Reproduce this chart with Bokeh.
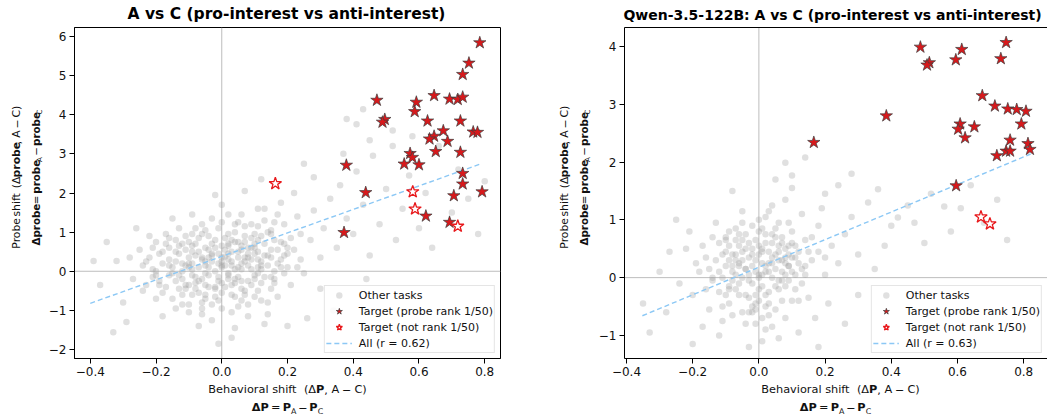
import math
from bokeh.plotting import figure
from bokeh.models import Range1d, Span, Label, Legend, LegendItem, LinearAxis, FixedTicker
from bokeh.layouts import row, column
from bokeh.embed import file_html
from bokeh.resources import INLINE

FONT = "DejaVu Sans"

# ---------------- data: left panel ----------------
left_title = "A vs C (pro-interest vs anti-interest)"
left_other_x = [0.00, 0.02, -0.03, 0.05, -0.06, 0.08, -0.09, 0.01, -0.02, 0.11, -0.11, 0.04, -0.05, 0.07, -0.08, 0.10, -0.12, 0.03, -0.01, 0.06,
                -0.07, 0.09, -0.10, 0.12, -0.04, 0.00, 0.02, -0.02, 0.05, -0.06, 0.08, -0.09, 0.01, 0.03, -0.04, 0.06, -0.03, 0.09, -0.12, 0.11,
                0.00, -0.08, 0.04, -0.05, 0.07, 0.10, -0.11, 0.12, -0.01, 0.02,
                0.14, -0.15, 0.16, -0.17, 0.18, -0.19, 0.20, -0.21, 0.22, -0.23, 0.15, -0.14, 0.17, -0.16, 0.19, -0.20, 0.21, -0.22, 0.24, -0.24,
                0.13, -0.13, 0.14, -0.18, 0.23, -0.25, 0.25, -0.15, 0.16, -0.20,
                0.05, -0.06, 0.02, -0.03, 0.08, -0.09, 0.00, 0.04, -0.07, 0.11, -0.02, 0.07, 0.03, -0.01, 0.13,
                0.27, 0.28, -0.27, -0.28, 0.30, 0.31, -0.30, 0.33, -0.32, -0.39, -0.33, 0.35, 0.36, -0.35, 0.38, 0.40, 0.41, -0.37, 0.43, 0.45,
                0.46, 0.48, 0.50, 0.52, 0.53, 0.55, 0.57, 0.58, 0.60, 0.62, 0.64, 0.66, 0.70, 0.72, 0.75, 0.78, 0.80, 0.30, 0.34, 0.26,
                0.28, 0.22, 0.18, 0.20, -0.26, -0.29, 0.12, 0.25, 0.44, 0.37, 0.38, 0.41, 0.43, 0.52, 0.45,
                0.01, -0.01, 0.04, -0.05, 0.06, -0.07, 0.09, -0.10, 0.03, -0.03, 0.07, -0.08, 0.10, -0.04, 0.05, -0.06, 0.02, -0.09, 0.08, 0.00,
                0.12, -0.12, 0.13, -0.14, 0.15, -0.16, 0.11, -0.10, 0.06, -0.05,
                -0.18, -0.16, -0.14, -0.12, -0.10, -0.08, -0.06, -0.04, -0.02, 0.00, 0.02, 0.04, 0.06, 0.08, 0.10, 0.12, 0.14, 0.16, 0.18, 0.20,
                -0.19, -0.17, -0.15, -0.13, -0.11, -0.09, -0.07, -0.05, -0.03, -0.01, 0.01, 0.03, 0.05, 0.07, 0.09, 0.11, 0.13, 0.15, 0.17, 0.19,
                -0.22, -0.20, -0.18, -0.16, -0.14, -0.12, -0.10, -0.08, -0.06, -0.04, -0.02, 0.00, 0.02, 0.04, 0.06, 0.08, 0.10, 0.12, 0.14, 0.16,
                0.21, 0.23, 0.19, -0.21, -0.23, 0.17, 0.13, 0.09, -0.11, -0.07, 0.00, 0.03, -0.03, 0.05, -0.05, 0.07, -0.09, 0.11, -0.13, 0.15,
                -0.21, -0.19, -0.17, -0.15, -0.13, -0.11, -0.09, -0.07, -0.05, -0.03, -0.01, 0.01, 0.03, 0.05, 0.07, 0.09, 0.11, 0.13, 0.15, 0.17,
                -0.20, -0.16, -0.12, -0.08, -0.04, 0.00, 0.04, 0.08, 0.12, 0.16, 0.20, -0.14, -0.10, -0.06, -0.02, 0.02, 0.06, 0.10, 0.14, 0.18,
                -0.18, -0.13, -0.09, -0.05, -0.01, 0.03, 0.07, 0.11, 0.15, 0.19, -0.24, 0.24, -0.02, 0.02, -0.06, 0.06, 0.00, -0.10, 0.10, 0.04]
left_other_y = [0.10, -0.05, 0.25, 0.35, -0.20, 0.15, 0.05, 0.55, -0.45, 0.50, -0.35, -0.30, 0.60, -0.60, 0.40, -0.10, 0.20, 0.80, -0.75, 0.65,
                -0.55, 0.85, -0.85, 0.25, 0.90, -0.95, 0.30, 0.00, -0.15, 0.30, 0.45, -0.10, -0.40, 0.15, -0.10, 0.05, 0.45, -0.35, -0.60, -0.50,
                0.65, 0.70, 1.00, -0.70, 0.90, 0.70, 0.55, -0.75, 0.20, -0.20,
                0.40, 0.10, -0.20, -0.40, 0.75, 0.45, 0.10, -0.15, 0.55, 0.25, 1.05, -0.95, -0.65, 0.85, 1.20, -0.70, -0.35, 0.90, 0.95, -0.50,
                1.30, 1.10, -1.10, -1.15, 1.40, 0.55, -0.05, 1.35, 0.00, 0.00,
                1.25, 1.20, 1.45, -1.25, -1.15, 1.45, 1.70, -1.45, -1.40, 1.60, 1.95, 2.05, -1.70, -1.85, -1.35,
                0.80, 1.55, -0.20, 0.35, 0.35, 1.10, -0.80, 1.85, 0.26, 0.26, -1.56, 0.60, 2.20, 0.75, 1.35, 0.95, 2.55, -0.35, 1.70, 0.40,
                2.95, 1.20, 2.10, 3.20, 0.80, 1.60, 2.45, 3.45, 1.10, 2.00, 0.60, 3.20, 1.50, 2.60, 1.85, 0.95, 2.30, -0.45, -1.00, -1.20,
                2.40, 2.00, 1.75, -1.40, 1.10, -1.30, 2.35, 2.75, -0.20, 3.00, 3.89, 3.76, 4.14, 3.60, 3.35,
                0.38, -0.25, 0.05, 0.15, -0.45, 0.10, 0.30, 0.35, -0.60, 0.70, 0.25, -0.30, 0.95, -0.40, 0.75, -0.95, 0.95, 0.65, -0.85, -0.55,
                0.05, 0.00, 0.70, -0.25, -0.45, 0.60, 1.15, -1.05, 1.45, 1.05,
                0.20, -0.10, 0.50, -0.20, 0.75, -0.45, 0.95, 0.10, 0.60, -0.30, 0.70, -0.65, 0.20, -0.25, 0.60, -0.30, 0.15, 0.80, 0.30, 0.60,
                -0.25, 0.70, -0.70, 0.45, 0.15, -0.60, 0.50, -0.05, -0.85, 1.10, 0.15, 0.50, -0.90, 1.15, 0.05, 0.30, -0.15, 0.55, 0.20, -0.05,
                0.35, 0.75, -0.55, 0.30, 0.80, -0.85, 0.10, 1.10, -1.10, 0.35, -0.65, 1.25, 0.45, 0.75, -0.75, 0.60, -0.65, 0.90, -0.80, 1.25,
                0.85, 0.10, 0.40, 0.60, -0.35, 1.45, 1.60, 1.20, 0.90, -0.25, 0.35, -1.05, 1.35, 0.50, 0.25, 0.35, 0.50, 0.80, -0.45, -0.15,
                0.05, -0.35, 0.95, -0.05, 0.65, -0.45, 0.20, 0.85, -0.60, 0.40, -0.15, 0.85, -0.35, 0.10, -0.50, 0.60, -0.05, 0.40, 0.95, 0.55,
                -0.10, 0.15, 0.70, -0.15, 0.55, 0.25, -0.20, 0.35, 0.15, -0.30, 0.45, 0.25, -0.35, 0.35, 0.80, -0.10, 0.55, -0.20, 1.00, 0.10,
                0.50, -0.10, 0.95, -0.35, 0.45, 0.25, 0.75, 0.10, 0.35, 0.70, 0.15, 0.30, -0.40, 0.65, -0.80, -0.25, 0.15, 0.20, 0.45, 1.20]
left_top_x = [0.785, 0.752, 0.733, 0.472, 0.592, 0.646, 0.693, 0.718, 0.733, 0.587, 0.496, 0.489, 0.626, 0.726, 0.765, 0.778, 0.674, 0.646,
              0.632, 0.687, 0.651, 0.726, 0.573, 0.580, 0.555, 0.600, 0.379, 0.733, 0.733, 0.438, 0.706, 0.792, 0.621, 0.693, 0.372]
left_top_y = [5.84, 5.32, 5.03, 4.37, 4.32, 4.49, 4.40, 4.39, 4.45, 4.08, 3.88, 3.81, 3.84, 3.84, 3.56, 3.55, 3.59, 3.45,
              3.38, 3.32, 3.06, 3.04, 3.01, 2.91, 2.74, 2.72, 2.71, 2.50, 2.23, 2.01, 1.93, 2.03, 1.41, 1.25, 0.99]
left_not_x = [0.163, 0.581, 0.588, 0.718]
left_not_y = [2.24, 2.03, 1.59, 1.15]
left_fit_x = [-0.40, 0.79]
left_fit_y = [-0.82, 2.75]
left_r_label = "All (r = 0.62)"
left_xticks = [-0.4, -0.2, 0.0, 0.2, 0.4, 0.6, 0.8]
left_yticks = [-2, -1, 0, 1, 2, 3, 4, 5, 6]

# ---------------- data: right panel ----------------
right_title = "Qwen-3.5-122B: A vs C (pro-interest vs anti-interest)"
right_other_x = [0.00, 0.02, -0.02, 0.04, -0.04, 0.06, -0.06, 0.01, -0.01, 0.08, -0.08, 0.03, -0.03, 0.05, -0.05, 0.07, -0.07, 0.09, -0.09, 0.00,
                 0.01, -0.02, 0.10, -0.10, 0.11, -0.11, 0.03, -0.03, 0.05, -0.05, 0.06, -0.06, 0.04, -0.04, 0.12, -0.12, 0.08, -0.08, 0.02, -0.01,
                 0.00, 0.02, -0.02, 0.07, -0.07, 0.09, -0.09, 0.10, -0.10, 0.13,
                 0.14, -0.14, 0.16, -0.16, 0.15, -0.15, 0.18, -0.18, 0.20, -0.20, 0.13, -0.13, 0.17, -0.17, 0.22, -0.22, 0.12, -0.12, 0.04, -0.05,
                 0.08, 0.01, -0.03, 0.06, 0.24, -0.24, 0.19, 0.21, -0.21, 0.10,
                 -0.35, -0.33, -0.30, -0.28, -0.27, 0.26, 0.28, 0.30, 0.33, 0.35, 0.36, 0.24, 0.14, 0.08, 0.10, 0.40, 0.42, 0.45, 0.47, 0.50,
                 0.52, 0.56, 0.61, 0.58, 0.64, 0.68, 0.72, 0.75, 0.30, 0.26, 0.18, -0.25, -0.20, 0.38, 0.05, -0.08, 0.28, 0.20,
                 -0.13, -0.11, -0.09, -0.07, -0.05, -0.03, -0.01, 0.01, 0.03, 0.05, 0.07, 0.09, 0.11, 0.13, 0.15, -0.15, -0.12, -0.10, -0.08, -0.06,
                 -0.04, -0.02, 0.00, 0.02, 0.04, 0.06, 0.08, 0.10, 0.12, 0.14, -0.17, -0.14, -0.11, -0.09, -0.07, -0.05, -0.03, -0.01, 0.01, 0.03,
                 0.05, 0.07, 0.09, 0.11, 0.16, 0.18, -0.19, -0.16, 0.20, 0.02, -0.02, 0.04, -0.04, 0.06, -0.06, 0.00, 0.01, -0.01, 0.03, 0.08,
                 -0.12, -0.10, -0.08, -0.06, -0.04, -0.02, 0.00, 0.02, 0.04, 0.06, 0.08, 0.10, 0.12, -0.11, -0.09, -0.07, -0.05, -0.03, -0.01, 0.01,
                 0.03, 0.05, 0.07, 0.09, 0.11, -0.10, -0.06, -0.02, 0.02, 0.06, 0.10, -0.08, -0.04, 0.00, 0.04, 0.08, -0.14, 0.14, -0.03, 0.03,
                 -0.07, 0.07, -0.01, 0.01, -0.05, 0.05, 0.00, -0.09, 0.09, 0.02]
right_other_y = [0.05, 0.20, -0.10, 0.35, 0.15, -0.05, -0.30, 0.50, -0.45, 0.25, 0.40, -0.25, 0.60, 0.70, -0.60, -0.40, 0.05, 0.55, -0.15, 0.80,
                 -0.70, 0.90, 0.10, 0.20, -0.20, -0.50, 0.10, -0.35, -0.55, 0.45, 0.95, 0.75, -0.85, -0.80, 0.45, 0.60, -0.70, -0.65, 1.05, 0.30,
                 -0.20, -0.50, 0.40, 0.60, 0.85, -0.05, 0.30, 0.80, -0.30, 0.15,
                 0.65, -0.05, 0.30, 0.35, -0.35, -0.55, 0.90, 0.10, 0.05, -0.30, 1.10, 0.95, -0.70, -0.85, 0.55, 0.50, -0.95, -1.00, 1.25, 1.15,
                 1.35, -1.10, -1.20, -1.05, 0.25, -0.10, 1.20, -0.45, 0.80, 1.55,
                 -0.45, -0.95, 0.10, -0.60, 0.45, 0.75, 1.05, 0.40, 1.30, 0.15, 1.53, 1.60, 2.08, 1.99, 1.77, 0.90, 1.04, 1.25, 0.95, 0.60,
                 1.45, 1.23, 1.20, 0.80, 1.60, 0.95, 1.35, 0.65, -0.30, -0.80, -1.20, 1.00, -1.15, 0.55, 1.70, 1.50, 1.80, 1.45,
                 0.30, 0.00, 0.55, -0.20, 0.30, 0.05, 0.65, -0.15, 0.45, 0.15, 0.30, 0.20, 0.55, -0.10, 0.45, 0.15, -0.25, 0.45, 0.10, 0.55,
                 -0.30, 0.20, 0.40, -0.30, 0.60, -0.20, 0.50, -0.40, 0.25, 0.05, 0.55, 0.70, -0.75, 0.80, 0.40, 0.95, -0.60, 0.10, 0.85, -0.45,
                 0.40, 0.10, 0.95, 0.35, 0.70, 0.45, 0.25, -0.20, 0.35, 0.60, -0.60, 0.00, 0.50, 0.45, 0.25, -0.40, 0.25, -0.80, 1.15, -0.15,
                 0.10, 0.70, -0.05, 0.20, 0.75, -0.50, 0.00, 0.75, 0.25, 0.55, 0.05, 0.35, -0.40, 0.40, -0.45, 0.65, 0.00, 0.35, -0.30, 0.45,
                 -0.65, 0.85, -0.05, 0.40, 0.05, 0.65, -0.10, 0.50, 0.10, 0.30, 0.60, 0.20, 0.15, 0.55, 0.75, 0.35, 0.00, 0.20, -0.05, 0.25,
                 0.30, 0.70, -0.55, 0.05, 0.65, -0.15, 1.00, -0.20, 0.20, -0.90]
right_top_x = [0.488, 0.613, 0.747, 0.595, 0.731, 0.515, 0.508, 0.675, 0.713, 0.752, 0.779, 0.807, 0.793, 0.385, 0.166,
               0.608, 0.602, 0.651, 0.623, 0.759, 0.813, 0.819, 0.719, 0.747, 0.759, 0.596]
right_top_y = [3.99, 3.95, 4.07, 3.77, 3.79, 3.72, 3.68, 3.15, 2.97, 2.92, 2.91, 2.88, 2.66, 2.80, 2.34,
               2.66, 2.57, 2.61, 2.42, 2.38, 2.32, 2.22, 2.11, 2.19, 2.19, 1.59]
right_not_x = [0.671, 0.698]
right_not_y = [1.05, 0.93]
right_fit_x = [-0.352, 0.821]
right_fit_y = [-0.66, 2.14]
right_r_label = "All (r = 0.63)"
right_xticks = [-0.4, -0.2, 0.0, 0.2, 0.4, 0.6, 0.8]
right_yticks = [-1, 0, 1, 2, 3, 4]

legend_labels = ["Other tasks", "Target (probe rank 1/50)", "Target (not rank 1/50)"]

# ---------------- text layout helpers ----------------
REG = {' ': 0.318, '(': 0.390, ')': 0.390, ',': 0.318, '.': 0.318, 'A': 0.684, 'B': 0.686, 'C': 0.698,
       'P': 0.603, 'Δ': 0.684, '−': 0.838, '=': 0.838, 'a': 0.613, 'b': 0.635, 'e': 0.615, 'h': 0.634,
       'i': 0.278, 'l': 0.278, 'o': 0.612, 'r': 0.411, 's': 0.521, 't': 0.392, 'v': 0.592, 'f': 0.352, 'p': 0.635}
BOLD = {' ': 0.348, 'P': 0.733, 'p': 0.716, 'r': 0.493, 'o': 0.687, 'b': 0.716, 'e': 0.678, 'Δ': 0.770}
BASE_FIX = 0.33   # bokeh draws "alphabetic" text about a third of an em lower than the given point


def tw(s, bold, size):
    tab = BOLD if bold else REG
    return sum(tab.get(c, REG.get(c, 0.6)) * size for c in s)


def text_fig(w, h):
    f = figure(width=w, height=h, x_range=Range1d(0, w), y_range=Range1d(0, h),
               x_axis_type=None, y_axis_type=None, output_backend="svg",
               toolbar_location=None, min_border=0)
    f.outline_line_color = None
    f.background_fill_color = "white"
    f.border_fill_color = "white"
    return f


def add_pieces(f, pieces, base, center, vertical, size):
    # pieces: (text, bold, subscript, gap_before_in_em)
    widths, gaps = [], []
    for t, b, sub, gap in pieces:
        s = size * 0.7 if sub else size
        widths.append(tw(t, b, s))
        gaps.append(gap * size)
    cur = center - (sum(widths) + sum(gaps)) / 2
    for (t, b, sub, gap), w, g in zip(pieces, widths, gaps):
        s = size * 0.7 if sub else size
        cur += g
        shift = size * 0.22 if sub else 0
        fix = BASE_FIX * s
        common = dict(text=t, text_font=FONT, text_font_size=f"{s:.1f}px",
                      text_font_style="bold" if b else "normal", text_color="#111111",
                      text_align="left", text_baseline="alphabetic")
        if vertical:
            lbl = Label(x=base + shift - fix, y=cur, angle=math.pi / 2, **common)
        else:
            lbl = Label(x=cur, y=base - shift + fix, **common)
        f.add_layout(lbl)
        cur += w


SP = 0.318
XL1 = [("Behavioral", False, False, 0), ("shift", False, False, SP), ("(Δ", False, False, 2 * SP),
       ("P", True, False, 0), (",", False, False, 0), ("A", False, False, SP), ("−", False, False, 0.25),
       ("C)", False, False, 0.25)]
XL2 = [("ΔP", True, False, 0), ("=", False, False, 0.2), ("P", True, False, 0.2), ("A", False, True, 0),
       ("−", False, False, 0.15), ("P", True, False, 0.15), ("C", False, True, 0)]
YL1 = [("Probe", False, False, 0), ("shift", False, False, SP), ("(Δ", False, False, 2 * SP),
       ("probe", True, False, 0), (",", False, False, 0), ("A", False, False, SP), ("−", False, False, 0.25),
       ("C)", False, False, 0.25)]
YL2 = [("Δprobe", True, False, 0), ("=", False, False, 0.25), ("probe", True, False, 0.25), ("A", False, True, 0),
       ("−", False, False, 0.18), ("probe", True, False, 0.18), ("C", False, True, 0)]


def make_panel(title, xr, yr, block_w, ylab_w, border_left, border_right, other_x, other_y, top_x, top_y,
               not_x, not_y, fit_x, fit_y, r_label, xticks, yticks, title_size, outline,
               title_cx, xlab_cx1, xlab_cx2, ylab_b1, ylab_b2):
    main_h = 355
    p = figure(width=block_w - ylab_w, height=main_h, x_range=Range1d(*xr), y_range=Range1d(*yr),
               output_backend="svg", toolbar_location=None,
               min_border_left=border_left, min_border_right=border_right,
               min_border_top=0, min_border_bottom=main_h - 331)
    p.background_fill_color = "white"
    p.border_fill_color = "white"
    p.xgrid.visible = False
    p.ygrid.visible = False
    p.outline_line_color = "#000000" if outline else None
    p.outline_line_width = 1
    for ax, ticks in ((p.xaxis[0], xticks), (p.yaxis[0], yticks)):
        ax.ticker = FixedTicker(ticks=ticks)
        ax.major_label_overrides = {t: (f"{t:.1f}" if isinstance(t, float) else str(t)).replace('-', '−') for t in ticks}
        ax.major_tick_out = 5
        ax.major_tick_in = 0
        ax.minor_tick_line_color = None
        ax.axis_line_color = "#000000"
        ax.major_tick_line_color = "#000000"
        ax.major_label_text_font = FONT
        ax.major_label_text_font_size = "12px"
        ax.major_label_text_color = "#111111"
        ax.major_label_standoff = 3
    if not outline:
        top = LinearAxis(ticker=FixedTicker(ticks=[]), axis_line_color="#000000",
                         major_label_text_font_size="0px", major_tick_line_color=None,
                         minor_tick_line_color=None)
        p.add_layout(top, "above")

    p.add_layout(Span(location=0, dimension="height", line_color="#bdbdbd", line_width=1, level="underlay"))
    p.add_layout(Span(location=0, dimension="width", line_color="#bdbdbd", line_width=1, level="underlay"))

    r_other = p.scatter(other_x, other_y, size=6.5, color="#a0a0a0", alpha=0.32, line_color=None)
    r_fit = p.line(fit_x, fit_y, line_color="#8cc8f5", line_width=1.4, line_dash="5 3")
    r_top = p.scatter(top_x, top_y, marker="star", size=13, fill_color="#d7191c",
                      line_color="#3c3c3c", line_width=0.7)
    r_not = p.scatter(not_x, not_y, marker="star", size=13, fill_color="white",
                      line_color="#e8191c", line_width=1.3)

    legend = Legend(items=[LegendItem(label=legend_labels[0], renderers=[r_other]),
                           LegendItem(label=legend_labels[1], renderers=[r_top]),
                           LegendItem(label=legend_labels[2], renderers=[r_not]),
                           LegendItem(label=r_label, renderers=[r_fit])],
                    location="bottom_right")
    legend.margin = 5
    legend.padding = 1
    legend.spacing = 0
    legend.glyph_height = 16
    legend.label_height = 16
    legend.glyph_width = 26
    legend.label_standoff = 7
    legend.label_text_font = FONT
    legend.label_text_font_size = "11px"
    legend.label_text_color = "#111111"
    legend.border_line_color = "#cccccc"
    legend.border_line_width = 1
    legend.background_fill_alpha = 0.85
    p.add_layout(legend)

    # title strip
    t_fig = text_fig(block_w, 27)
    ts = float(title_size.replace("px", ""))
    t_fig.add_layout(Label(x=title_cx, y=8 + BASE_FIX * ts, text=title, text_font=FONT, text_font_size=title_size,
                           text_font_style="bold", text_color="#000000",
                           text_align="center", text_baseline="alphabetic"))
    # y-label strip
    y_fig = text_fig(ylab_w, main_h)
    add_pieces(y_fig, YL1, ylab_b1, 194, True, 10.8)
    add_pieces(y_fig, YL2, ylab_b2, 194, True, 10.3)
    # x-label strip
    x_fig = text_fig(block_w, 417 - 27 - main_h)
    add_pieces(x_fig, XL1, 24, xlab_cx1, False, 11.3)
    add_pieces(x_fig, XL2, 6, xlab_cx2, False, 11.3)
    return column(t_fig, row(y_fig, p), x_fig)


left_block = make_panel(left_title, (-0.448, 0.848), (-2.23, 6.23), 550, 45, 27, 50,
                        left_other_x, left_other_y, left_top_x, left_top_y, left_not_x, left_not_y,
                        left_fit_x, left_fit_y, left_r_label, left_xticks, left_yticks, "15.5px", True,
                        286, 287, 287, 20, 39)
right_block = make_panel(right_title, (-0.406, 0.872), (-1.40, 4.33), 497, 45, 27, 0,
                         right_other_x, right_other_y, right_top_x, right_top_y, right_not_x, right_not_y,
                         right_fit_x, right_fit_y, right_r_label, right_xticks, right_yticks, "14.0px", False,
                         282, 290, 285, 18, 37)

layout = row(left_block, right_block)
open("out.html", "w").write(file_html(layout, INLINE))
